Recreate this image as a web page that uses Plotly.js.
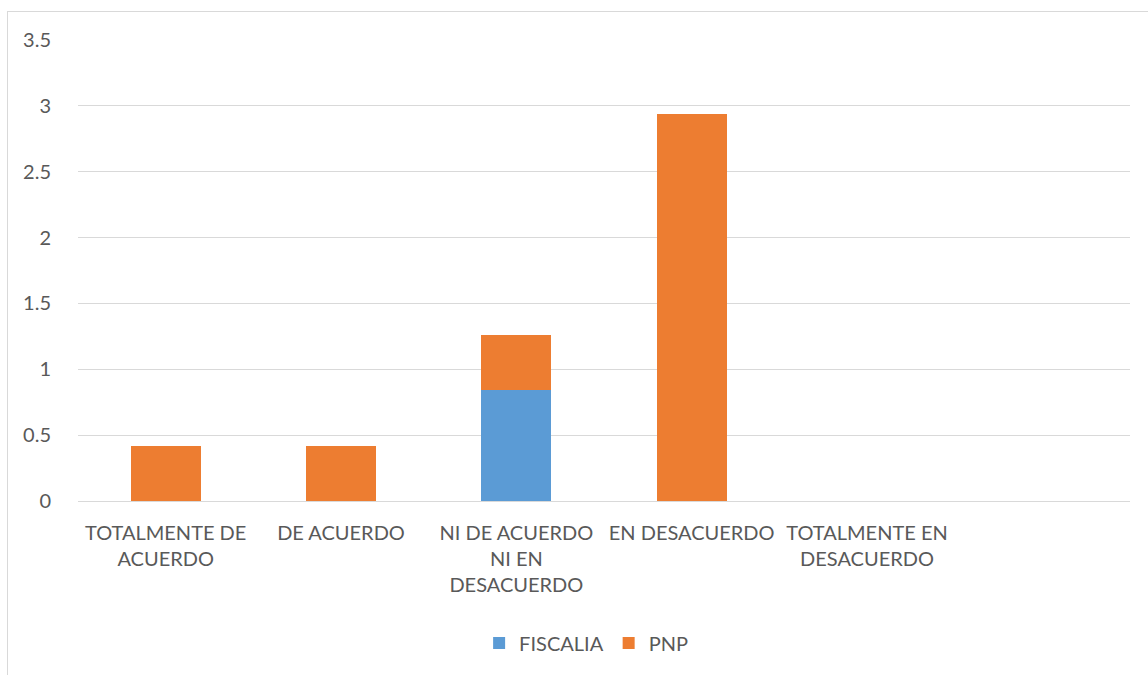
<!DOCTYPE html>
<html>
<head>
<meta charset="utf-8">
<script src="https://cdn.plot.ly/plotly-3.0.1.min.js"></script>
<style>
  html, body { margin: 0; padding: 0; background: #fff; overflow: hidden; }
  #frame { position: absolute; left: 7px; top: 11px; width: 1200px; height: 700px; border: 1px solid #d9d9d9; box-sizing: border-box; }
  #chart { position: absolute; left: 0; top: 0; width: 1148px; height: 675px; }
</style>
</head>
<body>
<div id="frame"></div>
<div id="chart"></div>
<script>
const categories = ["TOTALMENTE DE<br>ACUERDO", "DE ACUERDO", "NI DE ACUERDO<br>NI EN<br>DESACUERDO", "EN DESACUERDO", "TOTALMENTE EN<br>DESACUERDO", ""];
const positions = [0, 1, 2, 3, 4, 5];
const fiscalia = [0, 0, 0.84, 0, 0, 0];
const pnp = [0.42, 0.42, 0.42, 2.94, 0, 0];
const yTicks = [0, 0.5, 1, 1.5, 2, 2.5, 3, 3.5];
const yTickText = ["0", "0.5", "1", "1.5", "2", "2.5", "3", "3.5"];

const font = { family: "Lato, 'Open Sans', sans-serif", size: 20, color: "#595959" };

const traces = [
  { type: "bar", name: "FISCALIA", x: positions, y: fiscalia, width: 0.4,
    marker: { color: "#5b9bd5" }, hoverinfo: "y+name" },
  { type: "bar", name: "PNP", x: positions, y: pnp, width: 0.4,
    marker: { color: "#ed7d31" }, hoverinfo: "y+name" }
];

const layout = {
  width: 1148, height: 675,
  paper_bgcolor: "rgba(0,0,0,0)", plot_bgcolor: "rgba(0,0,0,0)",
  barmode: "stack",
  margin: { l: 78, r: 18, t: 40, b: 174 },
  font: font,
  showlegend: true,
  legend: { orientation: "h", traceorder: "normal", x: 0.483, xanchor: "center", y: -0.308, yanchor: "middle",
            font: font, itemwidth: 30, tracegroupgap: 0 },
  xaxis: {
    range: [-0.5, 5.5], tickmode: "array", tickvals: positions, ticktext: categories,
    showgrid: false, zeroline: false, showline: true, linecolor: "#d9d9d9", linewidth: 1,
    ticks: "outside", ticklen: 14, tickcolor: "rgba(0,0,0,0)", tickfont: font, fixedrange: true
  },
  yaxis: {
    range: [0, 3.5], tickmode: "array", tickvals: yTicks, ticktext: yTickText,
    showgrid: true, gridcolor: "#d9d9d9", gridwidth: 1, zeroline: false, showline: false,
    ticks: "outside", ticklen: 22, tickcolor: "rgba(0,0,0,0)", tickfont: font, fixedrange: true
  }
};

Plotly.newPlot("chart", traces, layout, { displayModeBar: false, staticPlot: true });
</script>
</body>
</html>
